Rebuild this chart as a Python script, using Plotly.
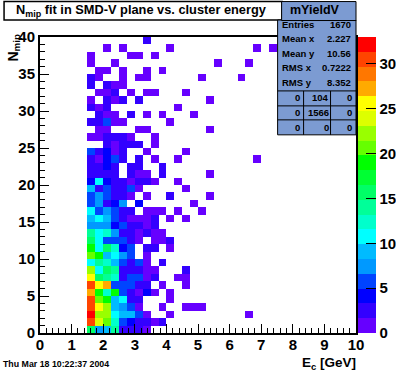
import plotly.graph_objects as go

x_start = 1.5
x_bin = 0.25
n_x_bins = 40
# counts per cell, one list per Nmip bin (row 0 = bottom), first entry is E = 1.5 GeV
counts = [
 [16,7,9,14,2,2,2,1],
 [31,24,21,13,6,4,2,2,1,2],
 [33,23,23,11,9,9,6,1,0,0,1,0,0,0,0,0,0,0,0,0,1],
 [31,26,23,9,7,6,1,0,0,1,0,0,1,1,1],
 [31,21,19,9,11,2,2,0,0,0,1],
 [27,19,13,19,6,2,1,4,1,0,1],
 [31,26,27,6,6,6,2,2,0,1,0,0,1],
 [26,16,14,13,2,6,6,1,2,0,0,1,1],
 [23,11,16,14,2,2,2,1,1,0,0,0,2],
 [11,14,13,9,6,2,6,1,0,2],
 [21,19,9,11,7,6,0,1],
 [19,11,16,13,4,6,0,2,2,0,1],
 [16,11,6,6,6,2,1,0,1,1,2],
 [14,11,13,7,2,2,1,2,1,1],
 [7,7,7,4,6,2,2,1,2],
 [9,11,9,6,2,1,1,1,2,0,1,0,1],
 [11,6,7,6,2,2,0,1,1,1,0,1,0,0,1],
 [6,7,2,4,7,0,4,0,0,0,0,0,0,1],
 [6,7,6,2,2,1,0,1,0,0,2,0,0,0,0,1],
 [9,2,6,2,2,6,1,0,0,0,0,0,1],
 [4,11,4,2,2,1,2,2,1,0,0,1],
 [2,2,2,2,0,2,1,1,0,2,0,0,0,0,0,1],
 [2,2,4,2,0,2,2,0,0,2],
 [2,1,4,6,2,0,2,0,1,0,0,1,0,0,0,0,0,0,0,0,0,1],
 [6,2,4,1,2,0,0,1,0,0,0,0,1],
 [0,0,2,1,2,2,2,0,1],
 [1,1,2,2,2,1,0,0,1],
 [0,1,1,0,0,0,1,1,0,0,0,0,0,0,0,1],
 [2,2,6,1,1,0,0,0,0,0,1],
 [0,2,1,1,0,2,0,1,0,1,0,0,0,1],
 [2,1,2,0,0,0,0,0,0,0,0,1],
 [1,0,2,1,2,0,2,0,0,0,0,0,0,0,0,1],
 [0,1,1,2,0,1,0,1,1,0,0,0,1],
 [2,0,2,1,1],
 [2,1,0,0,1,0,1,1,0,0,0,0,0,0,1,0,0,0,0,1],
 [0,1,1,0,1,0,0,1,0,1],
 [1,0,0,1,0,0,0,0,0,0,0,0,0,0,0,0,1,0,0,0,1],
 [1,0,0,0,0,1,1,0,1],
 [0,0,1,0,1,0,0,0,0,0,1,0,0,0,0,0,0,0,0,0,0,1,0,1],
 [0,0,0,0,0,0,0,2],
]
palette = ["#6600ff","#3300ff","#0000ff","#0044ff","#0099ff","#00bbff","#00ffff","#00ffcc",
           "#00ff99","#00ff66","#00ff33","#00ff00","#66ff00","#99ff00","#ddff00","#ffff00",
           "#ffaa00","#ff7700","#ff4400","#ff0000"]
z_max = 33
stats_rows = [("Entries","1670"),("Mean x","2.227"),("Mean y","10.56"),("RMS x","0.7222"),("RMS y","8.352")]
stats_grid = [["0","104","0"],["0","1566","0"],["0","0","0"]]

W, H = 396, 372
L, R, T, B = 39.5, 356, 37, 333.5
BOLD = "Liberation Sans"
def px(v): return (v - L) / (R - L)
def py(v): return (B - v) / (B - T)

x_centers = [(i + 0.5) * x_bin for i in range(n_x_bins)]
first = int(x_start / x_bin)
z = []
for row in counts:
    cells = [None] * n_x_bins
    for k, v in enumerate(row):
        if v:
            cells[first + k] = v
    z.append(cells)
y_centers = [j + 0.5 for j in range(len(counts))]

scale = []
for k, c in enumerate(palette):
    scale.append([k / len(palette), c])
    scale.append([(k + 1) / len(palette), c])

fig = go.Figure(go.Heatmap(
    x=x_centers, y=y_centers, z=z, zmin=0, zmax=z_max, colorscale=scale,
    hoverongaps=False,
    colorbar=dict(
        x=px(358), xref="paper", xanchor="left", y=0, yref="paper",
        yanchor="bottom", lenmode="fraction", len=1, thicknessmode="pixels", thickness=18,
        outlinewidth=0, borderwidth=0, xpad=0, ypad=0, ticks="inside", ticklen=10, tickwidth=1,
        tickcolor="black", tickvals=[0, 5, 10, 15, 20, 25, 30],
        tickfont=dict(family=BOLD, size=15, color="black", weight=700),
    ),
))

shapes = []
def box(x0, y0, x1, y1, fill, lw=1.5):
    shapes.append(dict(type="rect", xref="paper", yref="paper", x0=px(x0), x1=px(x1),
                       y0=py(y1), y1=py(y0), fillcolor=fill, line=dict(color="black", width=lw), layer="above"))
def line(x0, y0, x1, y1):
    shapes.append(dict(type="line", xref="paper", yref="paper", x0=px(x0), x1=px(x1),
                       y0=py(y0), y1=py(y1), line=dict(color="black", width=1), layer="above"))
STAT = "#7c9bd2"
box(3.5, 1.5, 282, 20, "white")
box(277.5, 20, 356, 135, STAT, 1)
box(281.5, 1.5, 356, 20.5, STAT, 1)
for yy in (91, 106, 120):
    line(277.5, yy, 356, yy)
for xx in (303.5, 330.5):
    line(xx, 91, xx, 135)

ann = []
def text(x, y, s, size, anchor="left", angle=0):
    ann.append(dict(xref="paper", yref="paper", x=px(x), y=py(y), text=s, showarrow=False,
                    xanchor=anchor, yanchor="middle", textangle=angle,
                    font=dict(family=BOLD, size=size, color="black", weight=700)))
text(13, 10, "N<sub>mip</sub> fit in SMD-V plane vs. cluster energy", 12.8)
text(315, 10, "mYieldV", 12.5, "center")
for (lab, val), yy in zip(stats_rows, (24, 39, 54, 68, 83)):
    text(280, yy, lab, 9.5)
    text(353, yy, val, 9.5, "right")
for row, yy in zip(stats_grid, (98, 113, 127.5)):
    for s, xx in zip(row, (302, 331, 354)):
        text(xx, yy, s, 9.5, "right")
text(13, 48, "N<sub>mip</sub>", 14, "center", -90)
text(358, 364, "E<sub>c</sub> [GeV]", 13.5, "right")
text(0, 365, "Thu Mar 18 10:22:37 2004", 8.8)

axis = dict(showgrid=False, zeroline=False, showline=True, linecolor="black", linewidth=2, mirror=True,
            ticks="inside", tickcolor="black", tickwidth=1,
            tickfont=dict(family=BOLD, size=15, color="black", weight=700))
fig.update_layout(
    width=W, height=H, autosize=False, paper_bgcolor="white", plot_bgcolor="white",
    margin=dict(l=L, r=W - R, t=T, b=H - B, pad=0, autoexpand=False),
    xaxis=dict(range=[0, 10], dtick=1, ticklen=9, ticklabelstandoff=-3, minor=dict(dtick=0.2, ticks="inside", ticklen=5, tickcolor="black", tickwidth=1), **axis),
    yaxis=dict(range=[0, 40], dtick=5, ticklen=9, minor=dict(dtick=1, ticks="inside", ticklen=5, tickcolor="black", tickwidth=1), **axis),
    shapes=shapes, annotations=ann,
)
fig.write_html("out.html", config=dict(displayModeBar=False), post_script="document.body.style.margin='0';")
